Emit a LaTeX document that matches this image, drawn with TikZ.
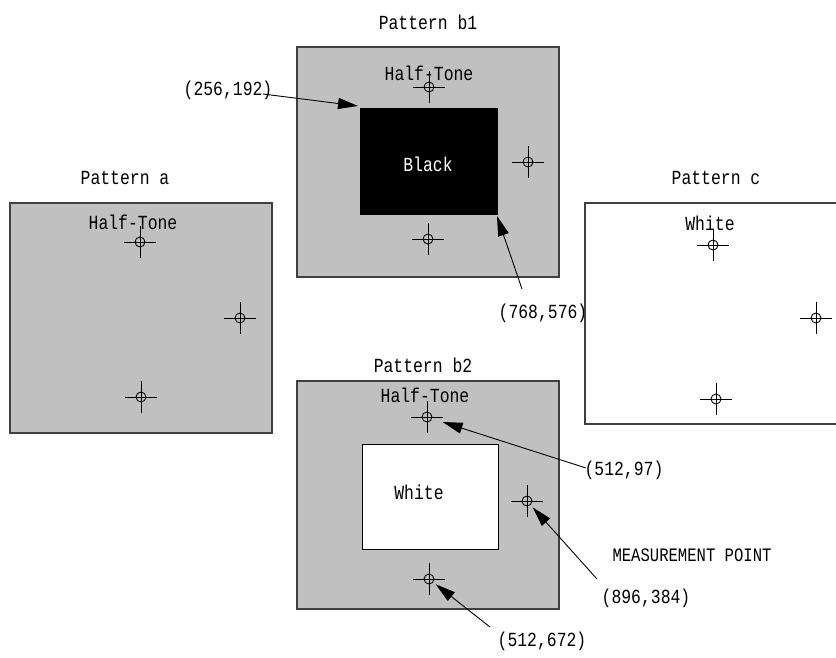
\documentclass[tikz,border=0pt]{standalone}
\usepackage{fontspec}
\newfontfamily\lab[FakeStretch=0.82]{Liberation Mono}
\usetikzlibrary{arrows.meta}
\definecolor{htgray}{HTML}{C0C0C0}
\definecolor{edge}{HTML}{404040}
\begin{document}
\begin{tikzpicture}[x=1pt,y=-1pt,
  panel/.style={draw=edge, line width=1.3pt, anchor=north west, inner sep=0pt, outer sep=0pt},
  inner/.style={draw=black, line width=1pt, anchor=north west, inner sep=0pt, outer sep=0pt},
  txt/.style={font=\lab\fontsize{20}{22}\selectfont, inner sep=0pt},
  xh/.style={circle, draw=black, line width=0.9pt, minimum size=10pt, inner sep=0pt},
  ptr/.style={-{Triangle[length=20pt,width=11pt]}, line width=0.9pt, black}]
\useasboundingbox (0,0) rectangle (836,657);
\newcommand{\xhair}[2]{%
  \node[xh] (#1) at (#2) {};
  \draw[line width=0.9pt] ([xshift=-16pt]#1.center) -- ([xshift=16pt]#1.center)
                          ([yshift=-16pt]#1.center) -- ([yshift=16pt]#1.center);}

% Pattern a
\node[panel, fill=htgray, minimum width=262pt, minimum height=230pt] (pa) at (10,203) {};
\node[txt] (pat) at (125,178) {Pattern a};
\node[txt] (pah) at (133,222) {Half-Tone};
\xhair{a1}{140,242}
\xhair{a2}{240,318}
\xhair{a3}{141,397}

% Pattern b1
\node[panel, fill=htgray, minimum width=262pt, minimum height=230pt] (pb1) at (297,47) {};
\node[inner, fill=black, minimum width=137pt, minimum height=106pt] (blk) at (360,108) {};
\node[txt] (pb1t) at (428,22) {Pattern b1};
\node[txt] (pb1h) at (429,73) {Half-Tone};
\node[txt, text=white] (blkt) at (428,164) {Black};
\xhair{b1}{429,87}
\xhair{b2}{528,162}
\xhair{b3}{428,239}
\node[txt] (l1) at (228,90) {(256,192)};
\node[txt] (l2) at (543,313) {(768,576)};
\draw[ptr] ([shift={(35,4)}]l1.center) -- ([shift={(-2,-2)}]blk.north west);
\draw[ptr] ([shift={(-21,-24)}]l2.center) -- ([shift={(0,2)}]blk.south east);

% Pattern c
\node[panel, fill=white, minimum width=262pt, minimum height=221pt] (pc) at (585,203) {};
\node[txt] (pct) at (716,178) {Pattern c};
\node[txt] (pcw) at (710,223) {White};
\xhair{c1}{713,245}
\xhair{c2}{816,318}
\xhair{c3}{716,399}

% Pattern b2
\node[panel, fill=htgray, minimum width=262pt, minimum height=228pt] (pb2) at (297,381) {};
\node[inner, fill=white, minimum width=136pt, minimum height=105pt] (wht) at (362,444) {};
\node[txt] (pb2t) at (423,365) {Pattern b2};
\node[txt] (pb2h) at (425,395) {Half-Tone};
\node[txt] (whtt) at (419,492) {White};
\xhair{d1}{427,417}
\xhair{d2}{527,501}
\xhair{d3}{429,579}
\node[txt] (l3) at (624,470) {(512,97)};
\node[txt] (mp) at (692,555) {\fontsize{19}{21}\selectfont MEASUREMENT POINT};
\node[txt] (l4) at (646,598) {(896,384)};
\node[txt] (l5) at (542,641) {(512,672)};
\draw[ptr, shorten >=11pt] ([shift={(-38,-2)}]l3.center) -- (d1);
\draw[ptr, shorten >=3pt] ([shift={(-49,-19)}]l4.center) -- (d2);
\draw[ptr, shorten >=3pt] ([shift={(-52,-14)}]l5.center) -- (d3);
\end{tikzpicture}
\end{document}
